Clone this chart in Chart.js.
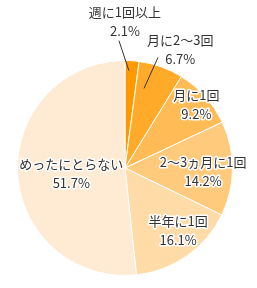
<!DOCTYPE html>
<html>
<head>
<meta charset="utf-8">
<script src="https://cdn.jsdelivr.net/npm/chart.js@4"></script>
<style>
  html, body { margin: 0; padding: 0; background: #fff; }
</style>
</head>
<body>
<canvas id="chart" width="257" height="288"></canvas>
<script>
'use strict';

var categories = ['週に1回以上', '月に2～3回', '月に1回', '2～3ヵ月に1回', '半年に1回', 'めったにとらない'];
var shares = [2.1, 6.7, 9.2, 14.2, 16.1, 51.7];
var sliceColors = ['#ff9900', '#ffaa28', '#ffbb55', '#ffca7c', '#ffdba8', '#ffebd3'];

// label placement per slice: radius factor and angle offset (deg) from slice middle
var labelPlace = [[1.366, -3.8], [1.216, 5.4], [0.89, 0], [0.728, 2.2], [0.765, -5.2], [0.503, -3.2]];
// leader lines for the small outside slices: [outer r, outer off, inner r, inner off]
var leaders = { 0: [1.186, -6.5, 0.907, -1.5], 1: [1.072, -3.0, 0.761, -6.2] };

function polar(arc, frac, deg) {
  var a = (arc.startAngle + arc.endAngle) / 2 + deg * Math.PI / 180;
  var r = arc.outerRadius * frac;
  return { x: arc.x + Math.cos(a) * r, y: arc.y + Math.sin(a) * r };
}

var pieLabels = {
  id: 'pieLabels',
  afterDatasetsDraw: function(chart) {
    var ctx = chart.ctx;
    var arcs = chart.getDatasetMeta(0).data;
    ctx.save();
    ctx.font = '13px "Noto Sans CJK JP", sans-serif';
    ctx.textAlign = 'center';
    ctx.textBaseline = 'middle';
    ctx.lineJoin = 'round';
    for (var i = 0; i < arcs.length; i++) {
      var arc = arcs[i];
      if (leaders[i]) {
        var l = leaders[i];
        var p1 = polar(arc, l[0], l[1]);
        var p2 = polar(arc, l[2], l[3]);
        ctx.beginPath();
        ctx.moveTo(p1.x, p1.y);
        ctx.lineTo(p2.x, p2.y);
        ctx.strokeStyle = '#333';
        ctx.lineWidth = 1;
        ctx.stroke();
      }
      var p = polar(arc, labelPlace[i][0], labelPlace[i][1]);
      var lines = [categories[i], shares[i].toFixed(1) + '%'];
      for (var k = 0; k < lines.length; k++) {
        var y = p.y + (k === 0 ? -9.5 : 9.5);
        ctx.strokeStyle = '#fff';
        ctx.lineWidth = 3;
        ctx.strokeText(lines[k], p.x, y);
        ctx.fillStyle = '#333';
        ctx.fillText(lines[k], p.x, y);
      }
    }
    ctx.restore();
  }
};

new Chart(document.getElementById('chart').getContext('2d'), {
  type: 'pie',
  data: {
    labels: categories,
    datasets: [{
      data: shares,
      backgroundColor: sliceColors,
      borderColor: '#fff',
      borderWidth: 1
    }]
  },
  options: {
    responsive: false,
    animation: false,
    layout: { padding: { left: 17, right: 24, top: 60, bottom: 12 } },
    plugins: {
      legend: { display: false },
      tooltip: { enabled: false }
    }
  },
  plugins: [pieLabels]
});
</script>
</body>
</html>
